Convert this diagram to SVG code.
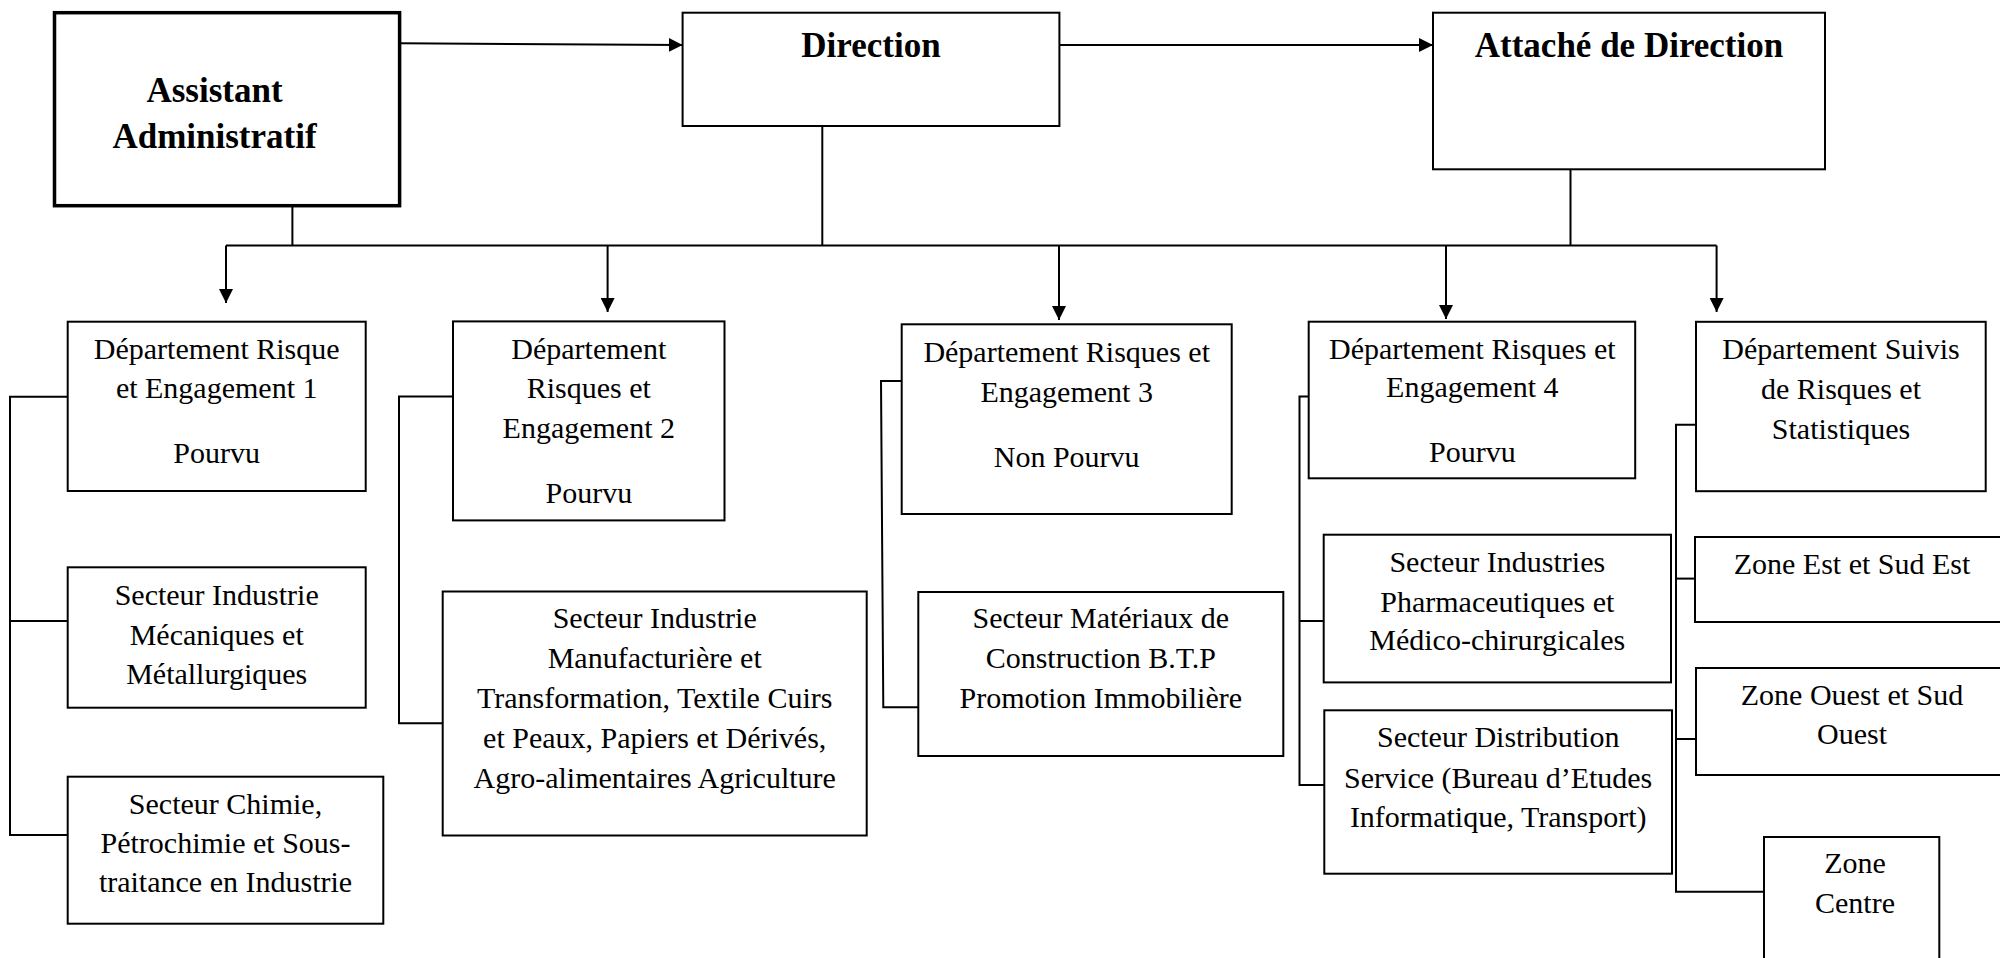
<svg xmlns="http://www.w3.org/2000/svg" width="2000" height="958" viewBox="0 0 2000 958">
  <style>
    .box { fill: #ffffff; stroke: #000000; stroke-width: 2; }
    .box-main { fill: #ffffff; stroke: #000000; stroke-width: 3.5; }
    .wire { fill: none; stroke: #000000; stroke-width: 2; }
    .lbl { font-family: "Liberation Serif", "Times New Roman", serif; font-size: 30px; fill: #000000; text-anchor: middle; }
    .head { font-family: "Liberation Serif", "Times New Roman", serif; font-size: 35px; font-weight: bold; fill: #000000; text-anchor: middle; }
  </style>
  <defs>
    <marker id="arrow" markerWidth="14" markerHeight="14" refX="14" refY="7" orient="auto" markerUnits="userSpaceOnUse">
      <path d="M0,0 L14,7 L0,14 Z" fill="#000000"/>
    </marker>
  </defs>
  <rect width="2000" height="958" fill="#ffffff"/>

  <!-- Connectors -->
  <g id="connectors">
    <!-- top row -->
    <path class="wire" d="M399.6,43.3 L682.6,45" marker-end="url(#arrow)"/>
    <path class="wire" d="M1059.4,45 L1433,45" marker-end="url(#arrow)"/>
    <!-- stems to the distribution bus -->
    <path class="wire" d="M292.4,205.7 V245.5"/>
    <path class="wire" d="M822.3,126 V245.5"/>
    <path class="wire" d="M1570.5,169.3 V245.5"/>
    <path class="wire" d="M226,245.5 H1716.6"/>
    <!-- drops to the departments -->
    <path class="wire" d="M226,245.5 V303" marker-end="url(#arrow)"/>
    <path class="wire" d="M607.6,245.5 V312" marker-end="url(#arrow)"/>
    <path class="wire" d="M1059,245.5 V320" marker-end="url(#arrow)"/>
    <path class="wire" d="M1446,245.5 V319" marker-end="url(#arrow)"/>
    <path class="wire" d="M1716.6,245.5 V312" marker-end="url(#arrow)"/>
    <!-- department 1 sectors -->
    <path class="wire" d="M67.7,396.7 H10 V835 H67.7"/>
    <path class="wire" d="M10,621 H67.7"/>
    <!-- department 2 sector -->
    <path class="wire" d="M453,396.5 H399 V723.3 H442.7"/>
    <!-- department 3 sector -->
    <path class="wire" d="M901.7,381 H881 L883.3,707.3 H918.3"/>
    <!-- department 4 sectors -->
    <path class="wire" d="M1308.7,396.6 H1299.5 V785 H1324.3"/>
    <path class="wire" d="M1299.5,621 H1323.7"/>
    <!-- follow-up department zones -->
    <path class="wire" d="M1696,424.8 H1676 V891.7 H1764"/>
    <path class="wire" d="M1676,578.6 H1695"/>
    <path class="wire" d="M1676,739 H1696"/>
  </g>

  <!-- Top level -->
  <g id="assistant">
    <rect class="box-main" x="54.5" y="12.7" width="345.1" height="193"/>
    <text class="head" x="214.5" y="101.7">Assistant</text>
    <text class="head" x="214.5" y="147.7">Administratif</text>
  </g>
  <g id="direction">
    <rect class="box" x="682.6" y="12.7" width="376.8" height="113.3"/>
    <text class="head" x="871" y="56.7">Direction</text>
  </g>
  <g id="attache">
    <rect class="box" x="1433" y="12.7" width="392" height="156.6"/>
    <text class="head" x="1629" y="56.7">Attaché de Direction</text>
  </g>

  <!-- Departments -->
  <g id="dept1">
    <rect class="box" x="67.7" y="321.7" width="298" height="169.3"/>
    <text class="lbl" x="216.7" y="359.3">Département Risque</text>
    <text class="lbl" x="216.7" y="398.3">et Engagement 1</text>
    <text class="lbl" x="216.7" y="462.7">Pourvu</text>
  </g>
  <g id="dept2">
    <rect class="box" x="453" y="321.4" width="271.5" height="199"/>
    <text class="lbl" x="588.8" y="358.9">Département</text>
    <text class="lbl" x="588.8" y="398.2">Risques et</text>
    <text class="lbl" x="588.8" y="437.5">Engagement 2</text>
    <text class="lbl" x="588.8" y="502.9">Pourvu</text>
  </g>
  <g id="dept3">
    <rect class="box" x="901.7" y="324.3" width="330" height="189.7"/>
    <text class="lbl" x="1066.7" y="361.7">Département Risques et</text>
    <text class="lbl" x="1066.7" y="401.7">Engagement 3</text>
    <text class="lbl" x="1066.7" y="466.7">Non Pourvu</text>
  </g>
  <g id="dept4">
    <rect class="box" x="1308.7" y="321.7" width="326.5" height="156.6"/>
    <text class="lbl" x="1472.3" y="359.2">Département Risques et</text>
    <text class="lbl" x="1472.3" y="397.3">Engagement 4</text>
    <text class="lbl" x="1472.3" y="462.2">Pourvu</text>
  </g>
  <g id="dept5">
    <rect class="box" x="1696" y="321.8" width="289.7" height="169.4"/>
    <text class="lbl" x="1841" y="358.8">Département Suivis</text>
    <text class="lbl" x="1841" y="398.7">de Risques et</text>
    <text class="lbl" x="1841" y="438.7">Statistiques</text>
  </g>

  <!-- Sectors -->
  <g id="sector-mecanique">
    <rect class="box" x="67.7" y="567.3" width="298" height="140.4"/>
    <text class="lbl" x="216.7" y="605">Secteur Industrie</text>
    <text class="lbl" x="216.7" y="645">Mécaniques et</text>
    <text class="lbl" x="216.7" y="684.3">Métallurgiques</text>
  </g>
  <g id="sector-chimie">
    <rect class="box" x="67.7" y="776.7" width="315.6" height="147"/>
    <text class="lbl" x="225.5" y="814">Secteur Chimie,</text>
    <text class="lbl" x="225.5" y="853.3">Pétrochimie et Sous-</text>
    <text class="lbl" x="225.5" y="892.3">traitance en Industrie</text>
  </g>
  <g id="sector-manufacture">
    <rect class="box" x="442.7" y="591.5" width="424" height="244"/>
    <text class="lbl" x="654.7" y="627.9">Secteur Industrie</text>
    <text class="lbl" x="654.7" y="667.9">Manufacturière et</text>
    <text class="lbl" x="654.7" y="707.9">Transformation, Textile Cuirs</text>
    <text class="lbl" x="654.7" y="748.2">et Peaux, Papiers et Dérivés,</text>
    <text class="lbl" x="654.7" y="787.5">Agro-alimentaires Agriculture</text>
  </g>
  <g id="sector-btp">
    <rect class="box" x="918.3" y="592" width="365" height="164"/>
    <text class="lbl" x="1100.8" y="628.3">Secteur Matériaux de</text>
    <text class="lbl" x="1100.8" y="668.3">Construction B.T.P</text>
    <text class="lbl" x="1100.8" y="708.3">Promotion Immobilière</text>
  </g>
  <g id="sector-pharma">
    <rect class="box" x="1323.7" y="534.7" width="347.3" height="147.7"/>
    <text class="lbl" x="1497.3" y="571.8">Secteur Industries</text>
    <text class="lbl" x="1497.3" y="612.2">Pharmaceutiques et</text>
    <text class="lbl" x="1497.3" y="650.4">Médico-chirurgicales</text>
  </g>
  <g id="sector-distribution">
    <rect class="box" x="1324.3" y="710.3" width="347.7" height="163.4"/>
    <text class="lbl" x="1498.2" y="746.6">Secteur Distribution</text>
    <text class="lbl" x="1498.2" y="787.8">Service (Bureau d’Etudes</text>
    <text class="lbl" x="1498.2" y="826.7">Informatique, Transport)</text>
  </g>

  <!-- Zones -->
  <g id="zone-est">
    <rect class="box" x="1695" y="537" width="330" height="85"/>
    <text class="lbl" x="1852" y="574">Zone Est et Sud Est</text>
  </g>
  <g id="zone-ouest">
    <rect class="box" x="1696" y="668" width="330" height="107"/>
    <text class="lbl" x="1852" y="705">Zone Ouest et Sud</text>
    <text class="lbl" x="1852" y="744">Ouest</text>
  </g>
  <g id="zone-centre">
    <rect class="box" x="1764" y="837" width="175.3" height="140"/>
    <text class="lbl" x="1855" y="873.3">Zone</text>
    <text class="lbl" x="1855" y="913.3">Centre</text>
  </g>
</svg>
